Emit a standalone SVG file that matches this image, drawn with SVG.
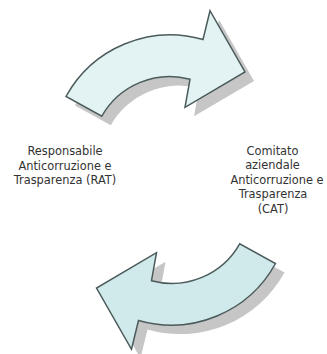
<svg xmlns="http://www.w3.org/2000/svg" xmlns:xlink="http://www.w3.org/1999/xlink" width="327" height="354" viewBox="0 0 327 354">
  <defs>
    <path id="arrowShape" d="M66,96.5 A119,119 0 0 1 203,39.5 L210,10.7 L245,72 L185,107.3 L190,79.3 A78,78 0 0 0 101.8,116.2 Z"/>
    <style>
      .shadow { fill: #c6c6c6; stroke: none; }
      .arrow { stroke: #4b5b5b; stroke-width: 1.5; stroke-linejoin: miter; }
      .top { fill: #e3f3f3; }
      .bottom { fill: #d0e9ea; }
      .label { font-family: "DejaVu Sans", "Liberation Sans", sans-serif; font-size: 11.4px; fill: #333333; text-anchor: middle; }
    </style>
  </defs>
  <rect width="327" height="354" fill="#ffffff"/>
  <g id="connectors">
    <g id="arrow-top">
      <use xlink:href="#arrowShape" href="#arrowShape" class="shadow" transform="translate(9,9)"/>
      <use xlink:href="#arrowShape" href="#arrowShape" class="arrow top"/>
    </g>
    <g id="arrow-bottom">
      <use xlink:href="#arrowShape" href="#arrowShape" class="shadow" transform="translate(9,9) rotate(180 170.75 180)"/>
      <use xlink:href="#arrowShape" href="#arrowShape" class="arrow bottom" transform="rotate(180 170.75 180)"/>
    </g>
  </g>
  <g id="node-rat">
    <text class="label" x="65" y="155">Responsabile</text>
    <text class="label" x="65" y="169.6">Anticorruzione e</text>
    <text class="label" x="65" y="184.2">Trasparenza (RAT)</text>
  </g>
  <g id="node-cat">
    <text class="label" x="272.5" y="154.5">Comitato</text>
    <text class="label" x="272.5" y="169.1">aziendale</text>
    <text class="label" x="277" y="183.7">Anticorruzione e</text>
    <text class="label" x="273" y="198.3">Trasparenza</text>
    <text class="label" x="273" y="212.9">(CAT)</text>
  </g>
</svg>
